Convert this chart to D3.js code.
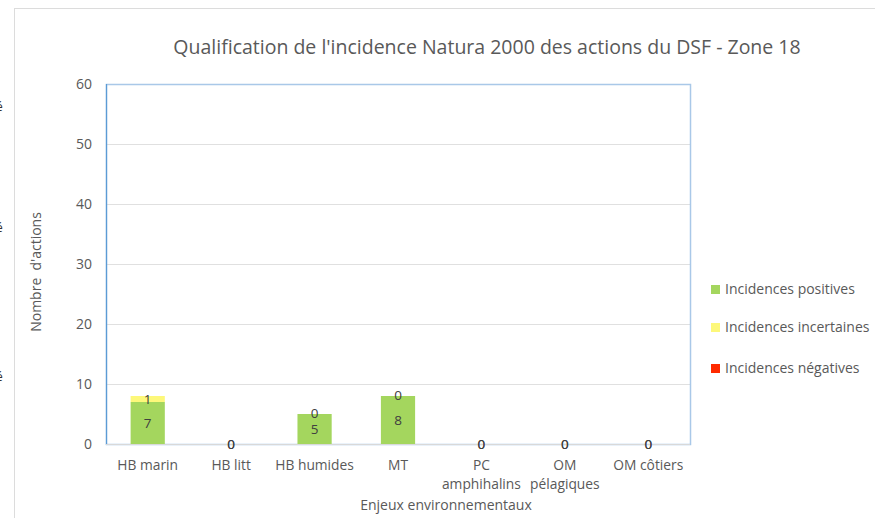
<!DOCTYPE html>
<html>
<head>
<meta charset="utf-8">
<script src="https://cdn.jsdelivr.net/npm/d3@7"></script>
<style>
  html, body { margin: 0; padding: 0; background: #fff; }
  svg { display: block; font-family: "Open Sans", "Noto Sans", sans-serif; }
</style>
</head>
<body>
<svg id="chart" width="875" height="518"></svg>
<script>
const title = "Qualification de l'incidence Natura 2000 des actions du DSF - Zone 18";
const categories = ["HB marin", "HB litt", "HB humides", "MT", "PC\namphihalins", "OM\npélagiques", "OM côtiers"];
const positives = [7, 0, 5, 8, 0, 0, 0];
const incertaines = [1, 0, 0, 0, 0, 0, 0];
const negatives = [0, 0, 0, 0, 0, 0, 0];
const seriesNames = ["Incidences positives", "Incidences incertaines", "Incidences négatives"];
const seriesColors = ["#a4d65e", "#fdf87a", "#ff2a00"];
const yTicks = [0, 10, 20, 30, 40, 50, 60];
const yTitle = "Nombre  d'actions";
const xTitle = "Enjeux environnementaux";

const svg = d3.select("#chart");
const W = 875, H = 518;
const plot = { left: 106, right: 690, top: 84, bottom: 444 };

// outer frame pieces
svg.append("line").attr("x1", 14).attr("x2", W).attr("y1", 8.5).attr("y2", 8.5)
  .attr("stroke", "#dcdcdc").attr("stroke-width", 1);
svg.append("line").attr("x1", 14.5).attr("x2", 14.5).attr("y1", 8).attr("y2", H)
  .attr("stroke", "#dcdcdc").attr("stroke-width", 1);
// clipped fragments at left edge (as in the reference)
[107, 228, 377].forEach(y => {
  svg.append("text").attr("x", -4).attr("y", y + 4).attr("font-size", 12)
    .attr("fill", "#333").text("é");
});

const x = d3.scaleBand().domain(categories).range([plot.left, plot.right])
  .paddingInner(0.59).paddingOuter(0.295);
const y = d3.scaleLinear().domain([0, 60]).range([plot.bottom, plot.top]);

// gridlines
svg.append("g").selectAll("line").data(yTicks).join("line")
  .attr("x1", plot.left).attr("x2", plot.right)
  .attr("y1", d => Math.round(y(d)) + 0.5).attr("y2", d => Math.round(y(d)) + 0.5)
  .attr("stroke", "#e0e0e0").attr("stroke-width", 1);

// plot border
svg.append("rect").attr("x", plot.left + 0.5).attr("y", plot.top + 0.5)
  .attr("width", plot.right - plot.left).attr("height", plot.bottom - plot.top)
  .attr("fill", "none").attr("stroke", "#a9c8e8").attr("stroke-width", 1.5);
svg.append("line").attr("x1", plot.left + 0.5).attr("x2", plot.left + 0.5)
  .attr("y1", plot.top).attr("y2", plot.bottom + 1).attr("stroke", "#5b9bd5").attr("stroke-width", 1.2);
svg.append("line").attr("x1", plot.left).attr("x2", plot.right)
  .attr("y1", plot.bottom + 0.5).attr("y2", plot.bottom + 0.5).attr("stroke", "#d9d9d9").attr("stroke-width", 1);

// stacked data
const rows = categories.map((c, i) => ({ cat: c, p: positives[i], u: incertaines[i], n: negatives[i] }));
const stack = d3.stack().keys(["p", "u", "n"])(rows);

const gBars = svg.append("g");
stack.forEach((s, si) => {
  gBars.selectAll(null).data(s).join("rect")
    .attr("x", d => x(d.data.cat))
    .attr("width", x.bandwidth())
    .attr("y", d => y(d[1]))
    .attr("height", d => y(d[0]) - y(d[1]))
    .attr("fill", seriesColors[si]);
});

// data labels for positives and incertaines
const gLabels = svg.append("g").attr("font-size", 13.5).attr("fill", "#404040").attr("text-anchor", "middle");
stack.slice(0, 2).forEach((s, si) => {
  gLabels.selectAll(null).data(s).join("text")
    .attr("x", d => x(d.data.cat) + x.bandwidth() / 2)
    .attr("y", d => (y(d[0]) + y(d[1])) / 2 + (si === 1 && d[1] === d[0] && d[0] > 0 ? 3.5 : 5))
    .text(d => d[1] - d[0]);
});

// y axis
const yAxis = d3.axisLeft(y).tickValues(yTicks).tickSize(0).tickPadding(14);
const gy = svg.append("g").attr("transform", `translate(${plot.left},0)`).call(yAxis);
gy.select(".domain").remove();
gy.selectAll("text").attr("font-size", 14).attr("fill", "#595959")
  .attr("font-family", "\"Open Sans\", sans-serif");

// x axis
const xAxis = d3.axisBottom(x).tickSize(0).tickFormat("");
const gx = svg.append("g").attr("transform", `translate(0,${plot.bottom})`).call(xAxis);
gx.select(".domain").remove();
const gxl = svg.append("g").attr("font-size", 13.8).attr("fill", "#595959").attr("text-anchor", "middle");
categories.forEach(c => {
  const t = gxl.append("text").attr("x", x(c) + x.bandwidth() / 2).attr("y", 470);
  c.split("\n").forEach((line, i) => {
    t.append("tspan").attr("x", x(c) + x.bandwidth() / 2).attr("dy", i === 0 ? 0 : 19).text(line);
  });
});

// axis titles
svg.append("text").attr("x", 446).attr("y", 510).attr("text-anchor", "middle")
  .attr("font-size", 14).attr("fill", "#595959").text(xTitle);
svg.append("text").attr("transform", "translate(41,272) rotate(-90)").attr("text-anchor", "middle")
  .attr("font-size", 14).attr("fill", "#595959").attr("xml:space", "preserve").style("white-space", "pre").text(yTitle);

// title
svg.append("text").attr("x", 487).attr("y", 54).attr("text-anchor", "middle")
  .attr("font-size", 19.5).attr("fill", "#595959").text(title);

// legend
const legend = svg.append("g");
const legY = [289, 327, 368];
seriesNames.forEach((name, i) => {
  legend.append("rect").attr("x", 711).attr("y", legY[i] - 4).attr("width", 9).attr("height", 9)
    .attr("fill", seriesColors[i]);
  legend.append("text").attr("x", 725).attr("y", legY[i] + 5).attr("font-size", 14)
    .attr("fill", "#595959").text(name);
});
</script>
</body>
</html>
